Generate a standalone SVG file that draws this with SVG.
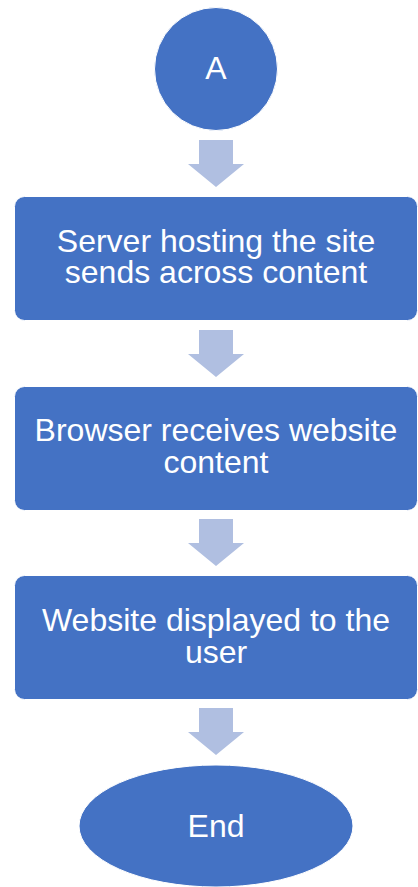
<svg xmlns="http://www.w3.org/2000/svg" width="418" height="887" viewBox="0 0 418 887">
<style>
.n{fill:#4472C4;stroke:#fff;stroke-width:1}
.t{font-family:"Liberation Sans",Arial,sans-serif;font-size:32px;fill:#fff;text-anchor:middle}
.a{fill:#B0BFE1}
</style>
<rect width="418" height="887" fill="#fff"/>
<g id="connectors">
<polygon class="a" points="199,140 233,140 233,164 244,164 216,187 188,164 199,164"/>
<polygon class="a" points="199,330 233,330 233,354 244,354 216,377 188,354 199,354"/>
<polygon class="a" points="199,519 233,519 233,543 244,543 216,566 188,543 199,543"/>
<polygon class="a" points="199,708 233,708 233,732 244,732 216,755 188,732 199,732"/>
</g>
<g id="start">
<circle class="n" cx="216" cy="69" r="61.5"/>
<text class="t" x="216" y="79">A</text>
</g>
<g id="server">
<rect class="n" x="14.5" y="196.5" width="403" height="124" rx="10"/>
<text class="t" x="216" y="252">Server hosting the site</text>
<text class="t" x="216" y="283">sends across content</text>
</g>
<g id="browser">
<rect class="n" x="14.5" y="386.5" width="403" height="124" rx="10"/>
<text class="t" x="216" y="441">Browser receives website</text>
<text class="t" x="216" y="473">content</text>
</g>
<g id="display">
<rect class="n" x="14.5" y="575.5" width="403" height="124" rx="10"/>
<text class="t" x="216" y="631">Website displayed to the</text>
<text class="t" x="216" y="663">user</text>
</g>
<g id="end">
<ellipse class="n" cx="216" cy="826" rx="137" ry="61"/>
<text class="t" x="216" y="837">End</text>
</g>
</svg>
